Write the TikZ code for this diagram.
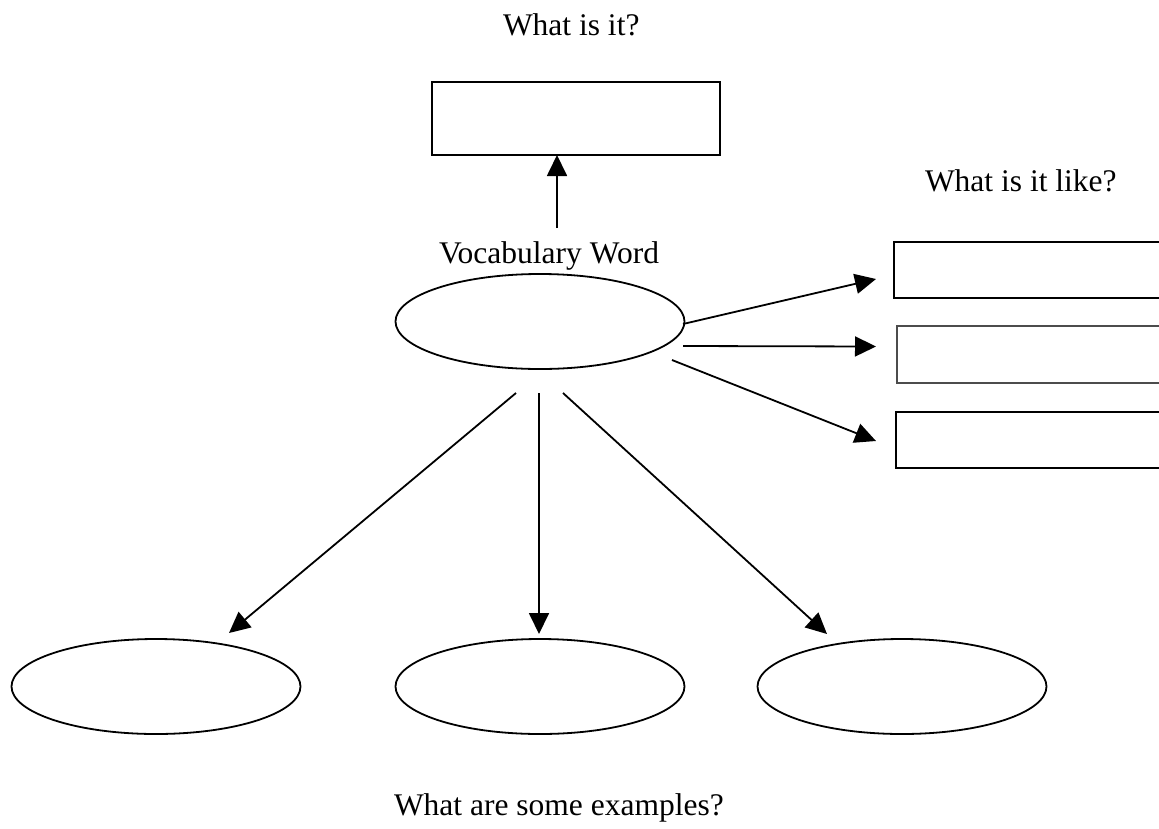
\documentclass[tikz,border=0pt]{standalone}
\usepackage{fontspec}
\setmainfont{Liberation Serif}
\usetikzlibrary{shapes.geometric,arrows.meta}
\begin{document}
\begin{tikzpicture}[x=1pt,y=-1pt,
  every node/.style={inner sep=0pt,outer sep=0pt},
  lbl/.style={anchor=base west,font=\fontsize{31.5}{36}\selectfont},
  oval/.style={draw,line width=1.8pt,ellipse,minimum width=289pt,minimum height=95pt},
  box/.style={draw,line width=1.8pt,rectangle,anchor=north west},
  conn/.style={line width=1.8pt,-{Triangle[length=21pt,width=20pt]}}]
\useasboundingbox (0,0) rectangle (1159,828);
\clip (0,0) rectangle (1159,828);
% texts
\node[lbl] (q1) at (503,35) {What is it?};
\node[lbl] (vw) at (439,263) {Vocabulary Word};
\node[lbl] (q2) at (925,191) {What is it like?};
\node[lbl] (q3) at (394,815) {What are some examples?};
% shapes
\node[box,minimum width=288pt,minimum height=73pt] (top) at (432,82) {};
\node[oval] (c) at (540,321.5) {};
\node[box,minimum width=300pt,minimum height=56pt] (b1) at (894,242) {};
\node[box,draw=black!70,line width=1.3pt,minimum width=300pt,minimum height=57pt] (b2) at (897,326) {};
\node[box,minimum width=300pt,minimum height=56pt] (b3) at (896,412) {};
\node[oval] (e1) at (156,686.5) {};
\node[oval] (e2) at (540,686.5) {};
\node[oval] (e3) at (902,686.5) {};
% connector end points
\coordinate (s0) at (557,228);
\coordinate (s1) at (683,324);
\coordinate (t1) at (876,279);
\coordinate (s2) at (683,346);
\coordinate (t2) at (876,346.5);
\coordinate (s3) at (672,360);
\coordinate (t3) at (876,441);
\coordinate (d1) at (516,393);
\coordinate (d2) at (539,393);
\coordinate (d3) at (563,393);
\coordinate (u1) at (229,633);
\coordinate (u2) at (539,634);
\coordinate (u3) at (827,634);
% connectors
\draw[conn] (s0) -- (s0 |- top.south);
\draw[conn] (s1) -- (t1);
\draw[conn] (s2) -- (t2);
\draw[conn] (s3) -- (t3);
\draw[conn] (d1) -- (u1);
\draw[conn] (d2) -- (u2);
\draw[conn] (d3) -- (u3);
\end{tikzpicture}
\end{document}
